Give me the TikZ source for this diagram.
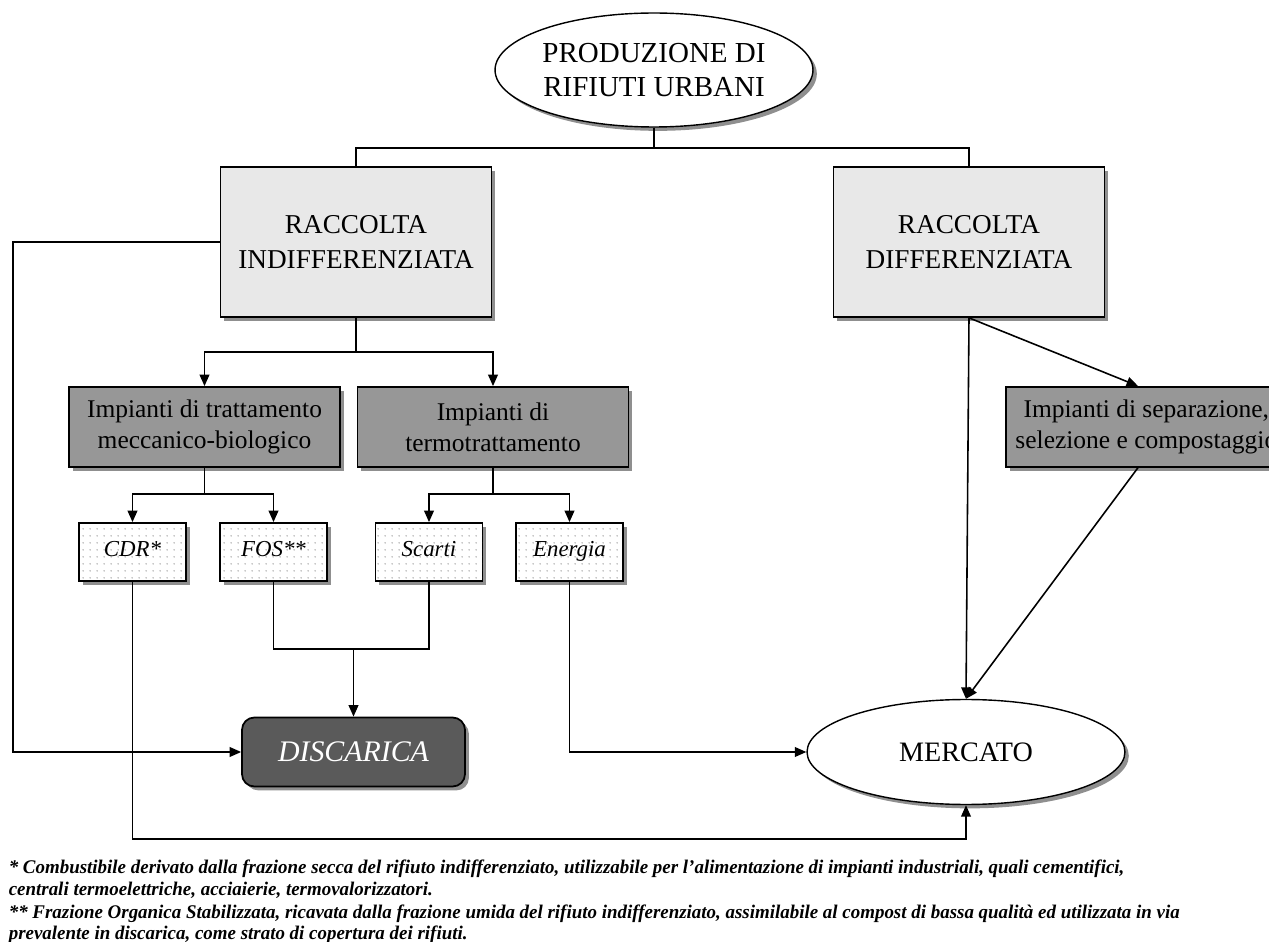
\documentclass[tikz,border=0pt]{standalone}
\usepackage{fontspec}
\setmainfont{Liberation Serif}
\newfontfamily\notefont[FakeStretch=0.98]{Liberation Serif}
\usetikzlibrary{positioning,shapes.geometric,shadows,patterns.meta,arrows.meta}

\definecolor{GrigioChiaro}{HTML}{E8E8E8}
\definecolor{GrigioMedio}{HTML}{979797}
\definecolor{GrigioScuro}{HTML}{5A5A5A}

\tikzset{
  ombra/.style={drop shadow={shadow xshift=2.2pt, shadow yshift=-2.2pt, fill=black!55, opacity=.8}},
  raccolta/.style={draw, line width=1pt, fill=GrigioChiaro, ombra, minimum width=5.42cm,
    minimum height=3cm, align=center, font=\fontsize{15.5}{19.5}\selectfont},
  impianto/.style={draw, line width=1pt, fill=GrigioMedio, ombra, minimum width=5.42cm,
    minimum height=1.6cm, align=center, font=\fontsize{14.5}{17.5}\selectfont},
  prodotto/.style={draw, line width=1pt, fill=white, ombra,
    postaction={pattern={Dots[distance=4pt, radius=.4pt]}, pattern color=black!60},
    minimum width=2.14cm, minimum height=1.16cm, text height=.72em, text depth=.22em,
    font=\fontsize{13}{15}\selectfont\itshape},
  ellisse/.style={ellipse, draw, line width=.8pt, fill=white, ombra, inner sep=0pt, align=center},
  freccia/.style={-{Triangle[length=6.5pt, width=5.5pt]}},
  nota/.style={anchor=base west, inner sep=0pt, font=\notefont\bfseries\itshape\fontsize{11}{12}\selectfont}
}

\begin{document}
\begin{tikzpicture}[x=0.02cm, y=-0.02cm, line width=.9pt]
  \useasboundingbox (0,0) rectangle (1269,942);
  \clip (0,0) rectangle (1269,942);

  % produzione e raccolta
  \node[ellisse, minimum width=6.36cm, minimum height=2.28cm,
    font=\fontsize{16.5}{19.5}\selectfont] (prod) at (654,70) {PRODUZIONE DI\\RIFIUTI URBANI};
  \node[raccolta] (ri) at (356,242) {RACCOLTA\\INDIFFERENZIATA};
  \node[raccolta] (rd) at (969,242) {RACCOLTA\\DIFFERENZIATA};

  % impianti
  \node[impianto] (mb) at (204.5,427) {Impianti di trattamento\\meccanico-biologico};
  \node[impianto] (tt) at (493,427) {Impianti di\\termotrattamento};
  \node[impianto, minimum width=5.62cm, anchor=north west] (sep) at (1005,386)
    {Impianti di separazione,\\selezione e compostaggio};

  % prodotti del trattamento
  \node[prodotto] (cdr) at (132.5,552) {CDR*};
  \node[prodotto] (fos) at (273.5,552) {FOS**};
  \node[prodotto] (scarti) at (429,552) {Scarti};
  \node[prodotto] (energia) at (569.5,552) {Energia};

  % destinazioni finali
  \node[draw, line width=1pt, rounded corners=7pt, fill=GrigioScuro, ombra, text=white,
    minimum width=4.46cm, minimum height=1.38cm,
    font=\fontsize{17}{20}\selectfont\itshape] (disc) at (353.5,752) {DISCARICA};
  \node[ellisse, minimum width=6.36cm, minimum height=2.1cm,
    font=\fontsize{16}{19}\selectfont] (merc) at (966,752) {MERCATO};

  % punti di diramazione
  \coordinate (top) at (654,148);
  \coordinate (riSplit) at (356,352);
  \coordinate (mbSplit) at (204.5,494);
  \coordinate (ttSplit) at (493,494);
  \coordinate (join) at (353.5,649);
  \coordinate (leftTurn) at (13,500);
  \coordinate (bottomTurn) at (500,839);
  \coordinate (sepIn) at ([xshift=2.66cm]sep.north west);
  \coordinate (sepOut) at ([xshift=2.66cm]sep.south west);

  \draw (prod.south) -- (top);
  \draw (ri.north) |- (top) -| (rd.north);
  \draw (ri.south) -- (riSplit);
  \draw[freccia] (riSplit) -| (mb.north);
  \draw[freccia] (riSplit) -| (tt.north);
  \draw (mb.south) -- (mbSplit);
  \draw[freccia] (mbSplit) -| (cdr.north);
  \draw[freccia] (mbSplit) -| (fos.north);
  \draw (tt.south) -- (ttSplit);
  \draw[freccia] (ttSplit) -| (scarti.north);
  \draw[freccia] (ttSplit) -| (energia.north);
  \draw (fos.south) |- (join);
  \draw (scarti.south) |- (join);
  \draw[freccia] (join) -- (disc.north);
  \draw[freccia] (ri.west) -| (leftTurn) |- (disc.west);
  \draw[freccia] (cdr.south) |- (bottomTurn) -| (merc.south);
  \draw[freccia] (energia.south) |- (merc.west);
  \draw[freccia] (rd.south) -- (merc.north);
  \draw[freccia] (rd.south) -- (sepIn);
  \draw[freccia] (sepOut) -- (merc.north);

  % note
  \node[nota] (nota1) at (8,873) {* Combustibile derivato dalla frazione secca del rifiuto indifferenziato, utilizzabile per l’alimentazione di impianti industriali, quali cementifici,};
  \node[nota] (nota2) at (8,895) {centrali termoelettriche, acciaierie, termovalorizzatori.};
  \node[nota] (nota3) at (8,918) {** Frazione Organica Stabilizzata, ricavata dalla frazione umida del rifiuto indifferenziato, assimilabile al compost di bassa qualità ed utilizzata in via};
  \node[nota] (nota4) at (8,939) {prevalente in discarica, come strato di copertura dei rifiuti.};
\end{tikzpicture}
\end{document}
